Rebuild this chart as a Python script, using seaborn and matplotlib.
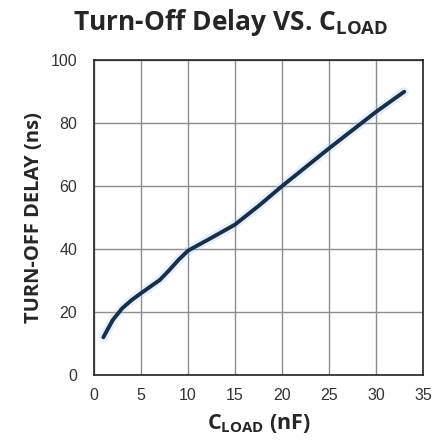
import numpy as np
import pandas as pd
import matplotlib
matplotlib.use("Agg")
import matplotlib.pyplot as plt
import seaborn as sns

# values
c_load = [1, 2, 3, 4, 5, 7, 8, 9, 10, 12.5, 15, 17.5, 20, 25, 30, 33]
delay = [12, 17.5, 21.2, 23.8, 26, 30.2, 33.3, 36.6, 39.5, 43.6, 47.8, 53.7, 60, 72, 83.6, 90]
x_ticks = [0, 5, 10, 15, 20, 25, 30, 35]
y_ticks = [0, 20, 40, 60, 80, 100]

df = pd.DataFrame({"C_LOAD (nF)": c_load, "Turn-off delay (ns)": delay})

sns.set_style("white")
plt.rcParams['font.family'] = ['Liberation Sans', 'DejaVu Sans']
plt.rcParams['mathtext.fontset'] = 'custom'
plt.rcParams['mathtext.rm'] = 'Open Sans'
plt.rcParams['mathtext.bf'] = 'Open Sans:bold'

fig = plt.figure(figsize=(4.33, 4.46), dpi=100)
ax = fig.add_axes([0.217, 0.159, 0.76, 0.706])

# soft glow behind the line
sns.lineplot(data=df, x="C_LOAD (nF)", y="Turn-off delay (ns)", ax=ax,
             color="#a9c9ee", linewidth=6.5, alpha=0.3)
sns.lineplot(data=df, x="C_LOAD (nF)", y="Turn-off delay (ns)", ax=ax,
             color="#14304d", linewidth=2.8, solid_capstyle="round",
             solid_joinstyle="round")

ax.set_xlim(0, 35)
ax.set_ylim(0, 100)
ax.set_xticks(x_ticks)
ax.set_yticks(y_ticks)
ax.grid(True, color="#8c8c8c", linewidth=1.0)
ax.set_axisbelow(True)
for s in ax.spines.values():
    s.set_color("#222222")
    s.set_linewidth(1.2)
ax.tick_params(axis="both", length=0, labelsize=11.5, labelcolor="#333333")
ax.tick_params(axis="y", pad=12)
ax.tick_params(axis="x", pad=9)

ax.set_xlabel(r"$\mathbf{C_{LOAD}}$ (nF)", fontsize=15.5, fontweight="bold",
              family="Open Sans", labelpad=7)
ax.set_ylabel("TURN-OFF DELAY (ns)", fontsize=14.5, fontweight="bold",
              family="Open Sans", labelpad=5)
fig.text(0.533, 0.950, r"Turn-Off Delay VS. $\mathbf{C_{LOAD}}$", ha="center",
         va="center", fontsize=19, fontweight="bold", family="Open Sans")

fig.savefig("out.png", dpi=100)
